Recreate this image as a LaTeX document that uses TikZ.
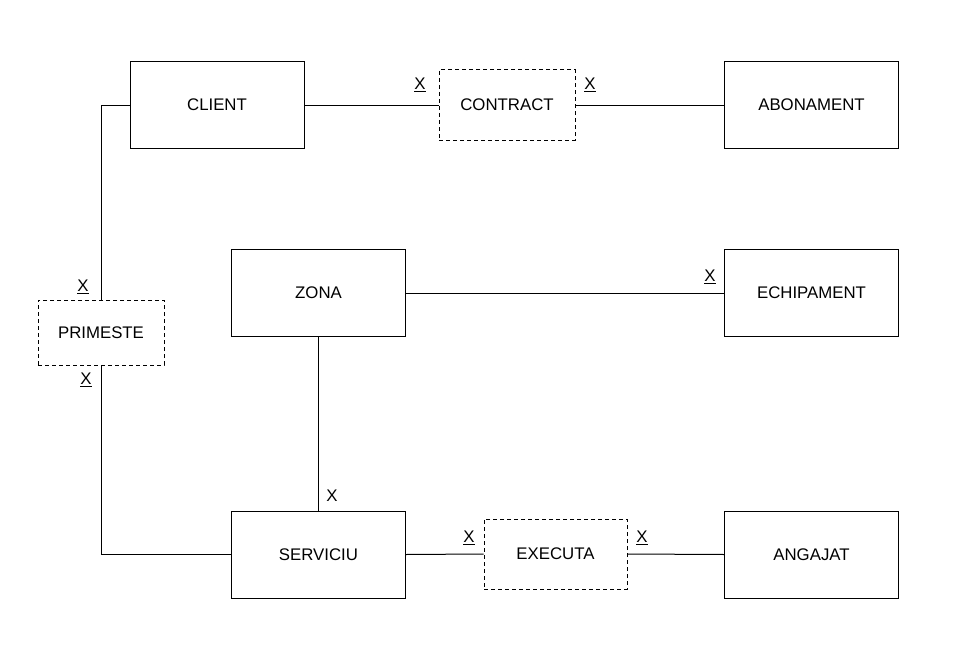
\documentclass[tikz,border=0pt]{standalone}
\usepackage{fontspec}
\setmainfont{Liberation Sans}
\usepackage{tikz}
\tikzset{
  entity/.style={draw, line width=1pt, minimum width=174pt, minimum height=87pt, inner sep=0pt},
  relation/.style={draw, line width=1pt, dash pattern=on 4pt off 3pt, inner sep=0pt},
  card/.style={inner sep=0pt},
  link/.style={line width=1pt}
}

\begin{document}
\begin{tikzpicture}[x=1pt, y=-1pt, font=\fontsize{16.8}{19}\selectfont]
            % Frame to ensure alignment:
            \useasboundingbox (0,0) rectangle (980,669);
            % Entities
            \node[entity] (client)     at (217.0,105.0) {CLIENT};
            \node[entity] (abonament)  at (811.5,105.0) {ABONAMENT};
            \node[entity] (zona)       at (318.5,293.0) {ZONA};
            \node[entity] (echipament) at (811.5,293.0) {ECHIPAMENT};
            \node[entity] (serviciu)   at (318.5,554.5) {SERVICIU};
            \node[entity] (angajat)    at (811.5,554.5) {ANGAJAT};
            % Relations
            \node[relation, minimum width=136pt, minimum height=70pt] (contract) at (507.0,105.0) {CONTRACT};
            \node[relation, minimum width=126pt, minimum height=65pt] (primeste) at (101.0,332.5) {PRIMESTE};
            \node[relation, minimum width=143pt, minimum height=70pt] (executa)  at (555.5,554.0) {EXECUTA};
            % Connectors
            \draw[link] (client.east)    -- (contract.west);
            \draw[link] (contract.east)  -- (abonament.west);
            \draw[link] (client.west)    -| (primeste.north);
            \draw[link] (primeste.south) |- (serviciu.west);
            \draw[link] (zona.east)      -- (echipament.west);
            \draw[link] (zona.south)     -- (serviciu.north);
            \draw[link] (serviciu.east)  -- (executa.west);
            \draw[link] (executa.east)   -- (angajat.west);
            % Cardinalities
            \node[card] (c1) at (420,85)  {\underline{X}};
            \node[card] (c2) at (590,85)  {\underline{X}};
            \node[card] (c3) at (83,287)  {\underline{X}};
            \node[card] (c4) at (86,380)  {\underline{X}};
            \node[card] (c5) at (710,277) {\underline{X}};
            \node[card] (c6) at (332,496) {X};
            \node[card] (c7) at (469,538) {\underline{X}};
            \node[card] (c8) at (642,538) {\underline{X}};
        \end{tikzpicture}
\end{document}
